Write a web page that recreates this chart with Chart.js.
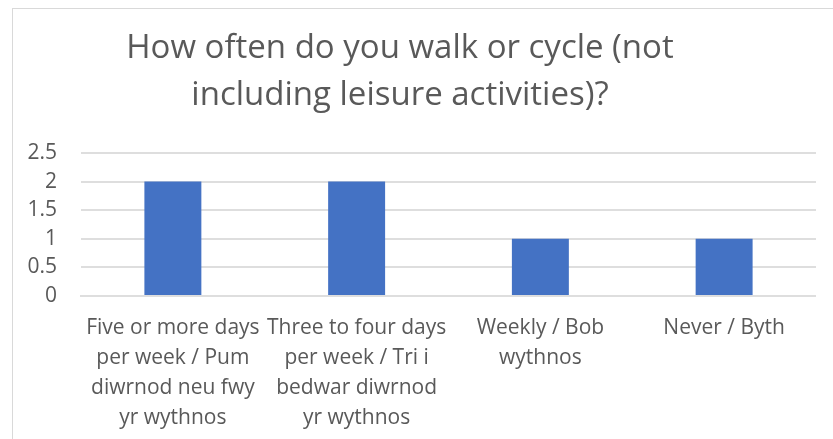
<!DOCTYPE html>
<html>
<head>
<meta charset="utf-8">
<script src="https://cdn.jsdelivr.net/npm/chart.js@4.4.0/dist/chart.umd.min.js"></script>
<style>
  body{margin:0;background:#fff;overflow:hidden;}
  #frame{position:absolute;left:12px;top:8px;width:900px;height:500px;border:1px solid #d9d9d9;}
  #wrap{position:absolute;left:-16px;top:0;width:832px;height:442px;}
</style>
</head>
<body>
<div id="frame"></div>
<div id="wrap"><canvas id="myChart"></canvas></div>
<script>
const categories=[
  ["Five or more days","per week / Pum","diwrnod neu fwy","yr wythnos"],
  ["Three to four days","per week / Tri i","bedwar diwrnod","yr wythnos"],
  ["Weekly / Bob","wythnos"],
  ["Never / Byth"]
];
const counts=[2,2,1,1];
const titleLines=["How often do you walk or cycle (not","including leisure activities)?"];

const grey="#595959";
const font="Open Sans";

let barChart=new Chart("myChart",{
    type:"bar",
    data:{
     labels:categories,
     datasets:[{
         data:counts,
         backgroundColor:"#4472C4",
         categoryPercentage:1,
         barPercentage:0.31
     }]
    },
    options:{
      responsive:true,
      maintainAspectRatio:false,
      animation:false,
      layout:{padding:{left:0,right:0,top:25,bottom:0}},
      plugins:{
        legend:{display:false},
        tooltip:{enabled:false},
        title:{
          display:true,
          text:titleLines,
          color:grey,
          font:{family:font,size:33,weight:"normal",lineHeight:47/33},
          padding:{top:0,bottom:34}
        }
      },
      scales:{
        x:{
          grid:{display:false},
          border:{display:true,color:"#dedede",width:2},
          ticks:{color:grey,font:{family:font,size:21,lineHeight:30/21},maxRotation:0,autoSkip:false,padding:9}
        },
        y:{
          min:0,max:2.5,
          afterFit:(scale)=>{scale.width=97},
          grid:{color:"#dedede",lineWidth:2,drawTicks:false},
          border:{display:false},
          ticks:{stepSize:0.5,color:grey,font:{family:font,size:21},padding:24,
            callback:(v)=>String(v)}
        }
      }
    }
})
</script>
</body>
</html>
